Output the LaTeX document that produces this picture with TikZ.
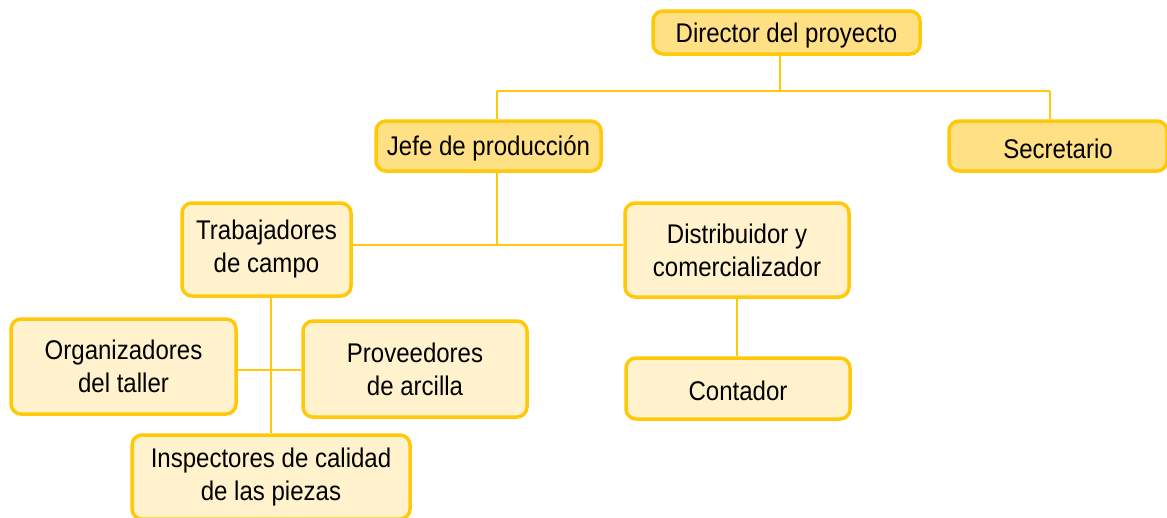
\documentclass[tikz,border=0pt]{standalone}
\usepackage{fontspec}
\setmainfont{Liberation Sans}[FakeStretch=0.89]
\usetikzlibrary{backgrounds}
\definecolor{bordery}{HTML}{FFC90A}
\definecolor{darkfill}{HTML}{FFE085}
\definecolor{lightfill}{HTML}{FFF2CC}
\begin{document}
\begin{tikzpicture}[x=1pt,y=-1pt,
  box/.style={draw=bordery,line width=3.5pt,rounded corners=10pt,align=center,
    font=\fontsize{27}{33}\selectfont,inner sep=0pt,text=black,
    execute at begin node={\rule{0pt}{25pt}}},
  topbox/.style={box,fill=darkfill},
  lowbox/.style={box,fill=lightfill},
  conn/.style={draw=bordery,line width=2.2pt}]
\useasboundingbox (0,0) rectangle (1167,517);
\node[topbox,minimum width=267pt,minimum height=43pt] (dir) at (786.5,32.5) {Director del proyecto};
\node[topbox,minimum width=225pt,minimum height=50pt] (jefe) at (488.5,146) {Jefe de producción};
\node[topbox,minimum width=218pt,minimum height=50pt] (sec) at (1058,146) {Secretario};
\node[lowbox,minimum width=169pt,minimum height=93pt] (trab) at (266.5,249.5) {Trabajadores\\de campo};
\node[lowbox,minimum width=224pt,minimum height=94pt] (dist) at (737,250) {Distribuidor y\\comercializador};
\node[lowbox,minimum width=225pt,minimum height=95pt] (org) at (123.5,366.5) {Organizadores\\del taller};
\node[lowbox,minimum width=224pt,minimum height=96pt] (prov) at (415,369) {Proveedores\\de arcilla};
\node[lowbox,minimum width=224pt,minimum height=61pt] (cont) at (738,388.5) {Contador};
\node[lowbox,minimum width=278pt,minimum height=84pt] (insp) at (271,477) {Inspectores de calidad\\de las piezas};
\coordinate (bus1) at (780,91);
\coordinate (jl) at (497,91);
\coordinate (sr) at (1050,91);
\coordinate (bus2) at (497,245);
\coordinate (bus3) at (271,370);
\coordinate (cx) at (737,340);
\begin{scope}[on background layer]
\draw[conn] (dir.south -| bus1) -- (bus1);
\draw[conn] (jl) -- (sr);
\draw[conn] (jl) -- (jl |- jefe.north);
\draw[conn] (sr) -- (sr |- sec.north);
\draw[conn] (jefe.south -| bus2) -- (bus2);
\draw[conn] (trab.east |- bus2) -- (dist.west |- bus2);
\draw[conn] (trab.south -| bus3) -- (insp.north -| bus3);
\draw[conn] (org.east |- bus3) -- (prov.west |- bus3);
\draw[conn] (dist.south -| cx) -- (cont.north -| cx);
\end{scope}
\end{tikzpicture}
\end{document}
